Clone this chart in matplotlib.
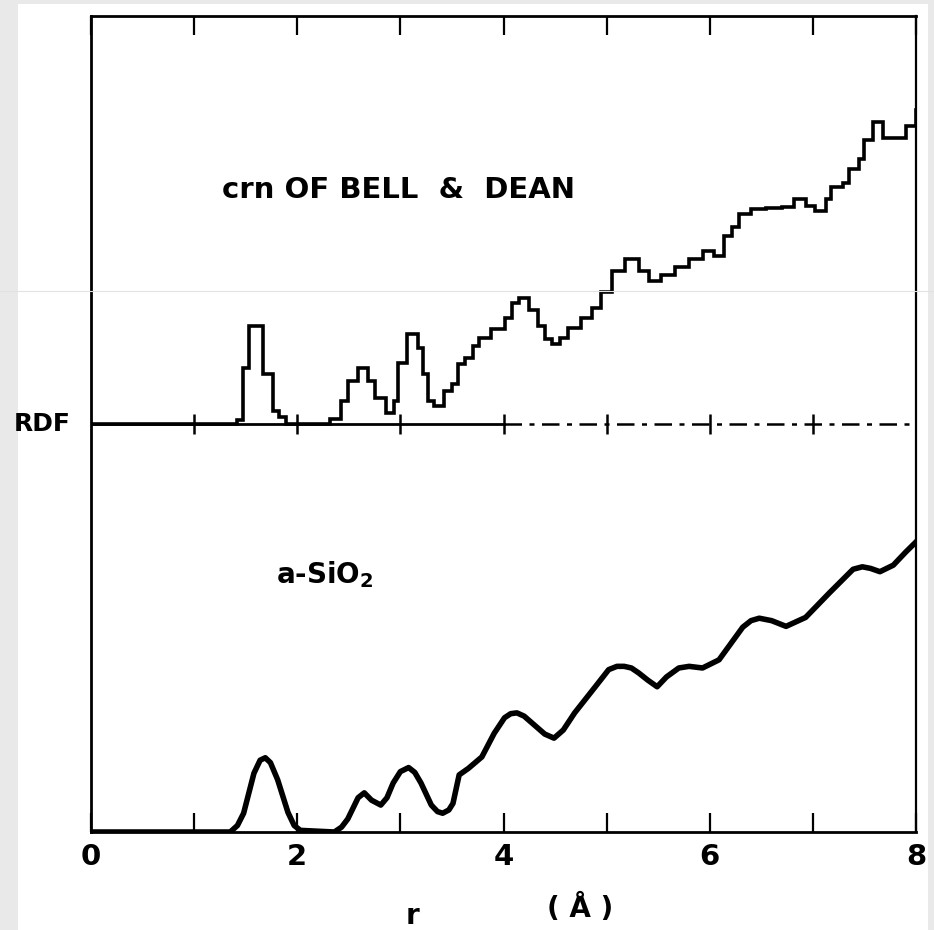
import matplotlib
matplotlib.use("Agg")
import matplotlib.pyplot as plt
from matplotlib.patches import Rectangle
from matplotlib.lines import Line2D

# crn of Bell & Dean (histogram-like, height above the RDF line)
crn_r = [0.0, 1.40, 1.42, 1.47, 1.53, 1.67, 1.76, 1.82, 1.89, 2.26, 2.32, 2.42,
         2.49, 2.59, 2.69, 2.75, 2.86, 2.94, 2.98, 3.06, 3.17, 3.22, 3.27, 3.33,
         3.42, 3.50, 3.56, 3.63, 3.70, 3.76, 3.88, 4.01, 4.08, 4.15, 4.25, 4.33,
         4.40, 4.47, 4.55, 4.63, 4.75, 4.86, 4.95, 5.05, 5.18, 5.31, 5.41, 5.53,
         5.66, 5.80, 5.93, 6.04, 6.14, 6.22, 6.28, 6.40, 6.55, 6.70, 6.82, 6.93,
         7.02, 7.13, 7.18, 7.29, 7.35, 7.45, 7.50, 7.58, 7.68, 7.78, 7.90, 8.00]
crn_rdf = [0.0, 0.0, 0.05, 0.69, 1.20, 0.61, 0.16, 0.08, 0.0, 0.0, 0.06, 0.28,
           0.53, 0.69, 0.53, 0.32, 0.13, 0.28, 0.75, 1.10, 0.93, 0.61, 0.28, 0.22,
           0.40, 0.49, 0.74, 0.81, 0.96, 1.05, 1.17, 1.30, 1.48, 1.55, 1.40, 1.20,
           1.04, 0.98, 1.06, 1.18, 1.30, 1.42, 1.62, 1.87, 2.02, 1.88, 1.75, 1.82,
           1.93, 2.02, 2.12, 2.06, 2.31, 2.41, 2.57, 2.63, 2.65, 2.66, 2.76, 2.67,
           2.61, 2.76, 2.90, 2.95, 3.13, 3.25, 3.48, 3.70, 3.51, 3.50, 3.65, 3.85]

# a-SiO2 (smooth curve)
sio2_r = [0.0, 1.35, 1.42, 1.48, 1.58, 1.64, 1.69, 1.74, 1.81, 1.91, 1.97, 2.03,
          2.36, 2.43, 2.49, 2.59, 2.65, 2.72, 2.81, 2.87, 2.93, 3.00, 3.08, 3.14,
          3.20, 3.30, 3.36, 3.41, 3.47, 3.51, 3.57, 3.66, 3.79, 3.91, 4.01, 4.07,
          4.13, 4.20, 4.30, 4.40, 4.49, 4.58, 4.69, 4.89, 5.02, 5.10, 5.17, 5.24,
          5.31, 5.40, 5.49, 5.58, 5.70, 5.80, 5.93, 6.09, 6.32, 6.40, 6.48, 6.60,
          6.74, 6.93, 7.16, 7.39, 7.48, 7.56, 7.65, 7.78, 7.90, 8.02]
sio2_rdf = [0.0, 0.0, 0.08, 0.23, 0.72, 0.88, 0.91, 0.85, 0.64, 0.24, 0.08, 0.02,
            0.0, 0.06, 0.16, 0.42, 0.48, 0.39, 0.33, 0.42, 0.60, 0.74, 0.79, 0.73,
            0.60, 0.33, 0.25, 0.23, 0.27, 0.35, 0.70, 0.78, 0.92, 1.21, 1.40, 1.45,
            1.46, 1.42, 1.31, 1.20, 1.15, 1.25, 1.46, 1.78, 1.99, 2.03, 2.03, 2.01,
            1.95, 1.86, 1.78, 1.90, 2.01, 2.03, 2.01, 2.11, 2.51, 2.59, 2.62, 2.59,
            2.52, 2.63, 2.93, 3.22, 3.25, 3.23, 3.19, 3.27, 3.43, 3.58]

x_ticks = [0, 1, 2, 3, 4, 5, 6, 7, 8]
x_labels = ["0", "", "2", "", "4", "", "6", "", "8"]
mid_ticks = [1, 2, 3, 4, 5, 6, 7]

offset = 5.0
ink = "black"

fig = plt.figure(figsize=(9.34, 9.30), dpi=100, facecolor="#e9e9e9")
fig.patches.append(Rectangle((18 / 934, 0), 910 / 934, 926 / 930,
                             transform=fig.transFigure, facecolor="white",
                             edgecolor="none", zorder=-10))
fig.lines.append(Line2D([0, 1], [1 - 291 / 930] * 2, transform=fig.transFigure,
                        color="#e2e2e2", lw=0.8))

ax = fig.add_axes([91 / 934, 98 / 930, 825 / 934, 816 / 930])
ax.set_facecolor("none")

ax.plot(crn_r, [v + offset for v in crn_rdf], color=ink, lw=2.6,
        drawstyle="steps-post", solid_joinstyle="miter")
ax.plot(sio2_r, sio2_rdf, color=ink, lw=4.0, solid_joinstyle="round",
        solid_capstyle="round")

# RDF zero line of the upper curve
ax.plot([0, 4], [offset, offset], color=ink, lw=2.0)
ax.plot([4, 8], [offset, offset], color=ink, lw=1.8, ls=(0, (7, 3, 2, 3)))
ax.plot(mid_ticks, [offset] * len(mid_ticks), ls="none", marker="|",
        ms=15, mew=1.8, color=ink)

ax.set_xlim(0, 8)
ax.set_ylim(0, 10)
ax.set_xticks(x_ticks)
ax.set_xticklabels(x_labels, fontsize=21, fontweight="bold")
ax.tick_params(axis="x", which="both", direction="in", top=True, bottom=True,
               length=14, width=1.6, pad=8, color=ink)
ax.set_yticks([])

for side in ["left", "top", "bottom"]:
    ax.spines[side].set_linewidth(2.0)
ax.spines["right"].set_linewidth(1.6)

ax.text(-0.2, offset, "RDF", ha="right", va="center", fontsize=18,
        fontweight="bold")
ax.text(1.27, 7.87, "crn OF BELL  &  DEAN", ha="left", va="center",
        fontsize=21, fontweight="bold")
ax.text(1.79, 3.15, "a-SiO$_\\mathbf{2}$", ha="left", va="center",
        fontsize=20, fontweight="bold")

fig.text(412 / 934, 1 - 916 / 930, "r", ha="center", va="center",
         fontsize=20, fontweight="bold")
fig.text(580 / 934, 1 - 908 / 930, "( Å )", ha="center", va="center",
         fontsize=20, fontweight="bold")

fig.savefig("out.png", dpi=100, facecolor=fig.get_facecolor())
